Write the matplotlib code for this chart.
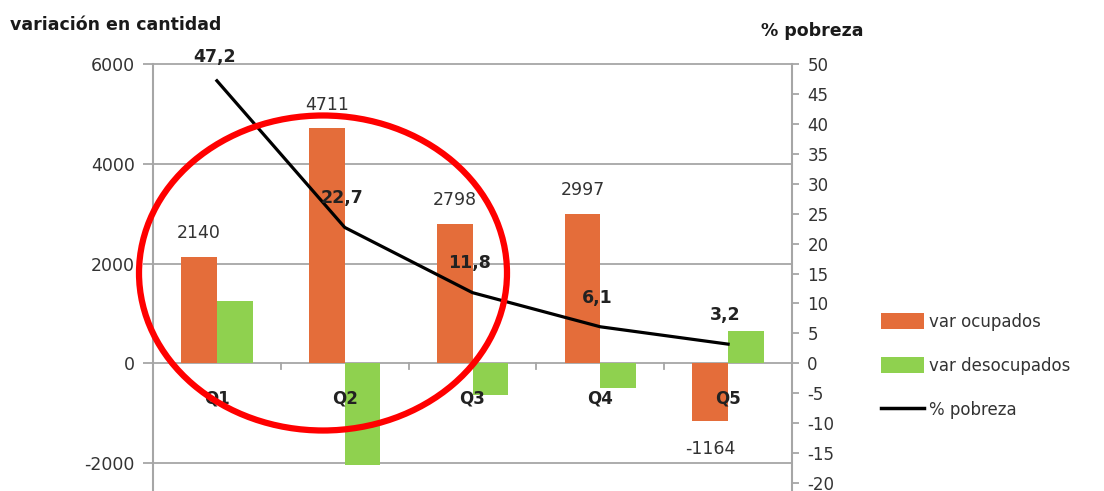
import matplotlib.pyplot as plt
import numpy as np
from matplotlib.patches import Ellipse, Patch
from matplotlib.lines import Line2D

plt.rcParams['axes.unicode_minus'] = False

# data
quintiles = ['Q1', 'Q2', 'Q3', 'Q4', 'Q5']
var_ocupados = [2140, 4711, 2798, 2997, -1164]
var_desocupados = [1250, -2030, -640, -490, 640]
pobreza = [47.2, 22.7, 11.8, 6.1, 3.2]
pobreza_labels = ['47,2', '22,7', '11,8', '6,1', '3,2']

orange = '#E46D3A'
green = '#8FD14F'
grid = '#A6A6A6'

W, H = 1104, 491
fig = plt.figure(figsize=(W / 100, H / 100), dpi=100)
ax = fig.add_axes([153 / W, 0, (792 - 153) / W, 1 - 64 / H])
ax2 = ax.twinx()

x = np.arange(len(quintiles))
bw = 0.28
ax.bar(x - bw / 2, var_ocupados, bw, color=orange, zorder=2)
ax.bar(x + bw / 2, var_desocupados, bw, color=green, zorder=2)

ax.set_xlim(-0.5, 4.5)
ax.set_ylim(-2560, 6000)
ax2.set_ylim(-2560 / 120, 50)

ax.set_yticks([-2000, 0, 2000, 4000, 6000])
ax2.set_yticks(np.arange(-20, 51, 5))
ax.set_xticks([])
for yv in [-2000, 0, 2000, 4000, 6000]:
    ax.axhline(yv, color=grid, lw=1.3, zorder=1, clip_on=False)
# category boundary ticks on the zero line
for b in [0.5, 1.5, 2.5, 3.5]:
    ax.plot([b, b], [0, -120], color=grid, lw=1.3, zorder=1)

for s in ['top', 'bottom']:
    ax.spines[s].set_visible(False)
    ax2.spines[s].set_visible(False)
ax2.spines['left'].set_visible(False)
ax.spines['right'].set_visible(False)
ax.spines['left'].set_color(grid)
ax.spines['left'].set_linewidth(1.5)
ax2.spines['right'].set_color(grid)
ax2.spines['right'].set_linewidth(1.5)
ax.tick_params(axis='y', colors=grid, labelcolor='#333333', labelsize=12.5, length=7, width=1.3, pad=6)
ax2.tick_params(axis='y', colors=grid, labelcolor='#333333', labelsize=12, length=5, width=1.3, pad=6)

# category labels sitting under the zero line
for i, q in enumerate(quintiles):
    ax.annotate(q, (i, 0), xytext=(0, -25), textcoords='offset points',
                ha='center', va='center', fontsize=12, fontweight='bold', color='#222222', zorder=5)

# bar value labels
for i, v in enumerate(var_ocupados):
    off = 17 if v > 0 else -20
    ax.annotate(str(v), (i - bw / 2, v), xytext=(0, off), textcoords='offset points',
                ha='center', va='center', fontsize=12.5, color='#333333', zorder=5)

# poverty line
ax2.plot(x, pobreza, color='black', lw=2.3, zorder=4)
for i, (p, lab) in enumerate(zip(pobreza, pobreza_labels)):
    off = 17 if i == 0 else 21
    ax2.annotate(lab, (i, p), xytext=(-2, off), textcoords='offset points',
                 ha='center', va='center', fontsize=12.5, fontweight='bold', color='#222222', zorder=5)

# red circle
ell = Ellipse((323 / W, 1 - 273 / H), 368 / W, 315 / H, transform=fig.transFigure,
              fill=False, edgecolor='#FF0000', lw=4.5, zorder=10)
fig.patches.append(ell)

# titles
fig.text(10 / W, 1 - 25 / H, 'variación en cantidad', fontsize=12.5, fontweight='bold',
         ha='left', va='center', color='#1a1a1a')
fig.text(812 / W, 1 - 31 / H, '% pobreza', fontsize=12.5, fontweight='bold',
         ha='center', va='center', color='#1a1a1a')

handles = [Patch(facecolor=orange), Patch(facecolor=green),
           Line2D([0], [0], color='black', lw=2.5)]
fig.legend(handles, ['var ocupados', 'var desocupados', '% pobreza'],
           loc='upper left', bbox_to_anchor=(866 / W, 1 - 298 / H), frameon=False,
           fontsize=12, labelspacing=1.55, handlelength=2.6, handleheight=1.1,
           handletextpad=0.3, labelcolor='#333333')

fig.savefig('out.png', dpi=100)
